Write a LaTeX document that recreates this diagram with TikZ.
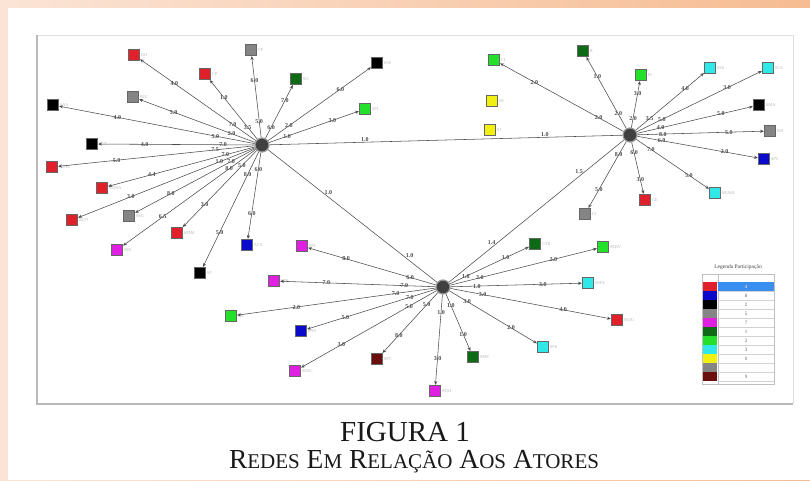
\documentclass[tikz,border=0pt]{standalone}
\usepackage{fontspec}
\setmainfont{Liberation Serif}
\usetikzlibrary{arrows.meta}
\definecolor{cred}{HTML}{E0202A}
\definecolor{cblue}{HTML}{0A0ACB}
\definecolor{cgray}{HTML}{858585}
\definecolor{cmag}{HTML}{E020E0}
\definecolor{cdkg}{HTML}{0E6A14}
\definecolor{cgrn}{HTML}{25E02A}
\definecolor{ccyan}{HTML}{30E8E8}
\definecolor{cyel}{HTML}{F2F010}
\definecolor{cdred}{HTML}{6A0E0E}
\definecolor{peachA}{HTML}{FBE4D6}
\definecolor{peachB}{HTML}{F6BC92}
\definecolor{selblue}{HTML}{3A8EF0}
\tikzset{
  leaf/.style={draw=black!60, line width=0.3pt, minimum size=11pt, inner sep=0pt, fill=#1},
  hub/.style={circle, fill=black!75, draw=gray!80, line width=1.2pt, minimum size=14pt, inner sep=0pt},
  edge/.style={draw=gray!60!black, line width=0.55pt, -{Stealth[length=3.8pt,width=3.2pt]}, shorten >=0.5pt},
  link/.style={draw=gray!60!black, line width=0.55pt},
  wlab/.style={font=\fontsize{6}{6}\selectfont\bfseries, text=black!70, inner sep=0.3pt},
  nlab/.style={font=\fontsize{4.5}{5}\selectfont, text=gray!55, anchor=west, inner sep=1pt},
  legtxt/.style={font=\fontsize{5}{5}\selectfont, text=black!60, inner sep=0pt}
}
\newcommand{\leafnode}[5]{% name, x, y, color, label
  \node[leaf=#4] (#1) at (#2,#3) {};
  \node[nlab] (#1t) at (#1.east) {#5};}
\newcommand{\smc}[1]{{\fontsize{21}{24}\selectfont #1}}
\begin{document}
\begin{tikzpicture}[x=1pt,y=-1pt]
\useasboundingbox (0,0) rectangle (810,480);
% background
\shade[left color=peachA, right color=peachB] (0,0) rectangle (810,480);
\fill[white] (8,8) rectangle (810,480);
% frame
\draw[gray!25, line width=0.6pt] (37,35) -- (793,35) -- (793,404);
\draw[gray!55, line width=1.6pt] (37,35) -- (37,404) -- (793,404);
% hubs
\node[hub] (A) at (262,145) {};
\node[hub] (B) at (630,135) {};
\node[hub] (C) at (443,287) {};
% left cluster leaves
\leafnode{a1}{134}{55}{cred}{OO}
\leafnode{a2}{205}{74}{cred}{CP}
\leafnode{a3}{251}{50}{cgray}{CF}
\leafnode{a4}{296}{79}{cdkg}{SG}
\leafnode{a5}{377}{63}{black}{SSS}
\leafnode{a6}{365}{109}{cgrn}{SFL}
\leafnode{a7}{133}{97}{cgray}{SEC}
\leafnode{a8}{53}{105}{black}{SAS}
\leafnode{a9}{92}{144}{black}{SCT}
\leafnode{a10}{52}{167}{cred}{SEAS}
\leafnode{a11}{102}{188}{cred}{SEMA}
\leafnode{a12}{72}{220}{cred}{SEJT}
\leafnode{a13}{129}{216}{cgray}{SEG}
\leafnode{a14}{177}{233}{cred}{SEIM}
\leafnode{a15}{117}{250}{cmag}{SPA}
\leafnode{a16}{247}{245}{cblue}{ACS}
\leafnode{a17}{200}{273}{black}{SP}
% right cluster leaves
\leafnode{b1}{494}{60}{cgrn}{CI}
\leafnode{b2}{583}{51}{cdkg}{R}
\leafnode{b3}{641}{75}{cgrn}{IS}
\leafnode{b4}{710}{68}{ccyan}{SSS}
\leafnode{b5}{768}{68}{ccyan}{SCS}
\leafnode{b6}{759}{105}{black}{SMA}
\leafnode{b7}{770}{131}{cgray}{SEI}
\leafnode{b8}{764}{159}{cblue}{SPC}
\leafnode{b9}{715}{193}{ccyan}{SEAM}
\leafnode{b10}{645}{200}{cred}{CE}
\leafnode{b11}{585}{214}{cgray}{CI}
\leafnode{y1}{492}{101}{cyel}{SE}
\leafnode{y2}{490}{130}{cyel}{SJ}
% bottom cluster leaves
\leafnode{c1}{302}{246}{cmag}{SPL}
\leafnode{c2}{274}{281}{cmag}{SPS}
\leafnode{c3}{231}{316}{cgrn}{SIC}
\leafnode{c4}{301}{331}{cblue}{SAS}
\leafnode{c5}{295}{371}{cmag}{SESC}
\leafnode{c6}{377}{359}{cdred}{SPC}
\leafnode{c7}{435}{391}{cmag}{SESI}
\leafnode{c8}{473}{357}{cdkg}{SME}
\leafnode{c9}{543}{347}{ccyan}{SFS}
\leafnode{c10}{617}{320}{cred}{SEJU}
\leafnode{c11}{588}{283}{ccyan}{SEPL}
\leafnode{c12}{603}{247}{cgrn}{SERV}
\leafnode{c13}{535}{244}{cdkg}{CTR}
% hub-hub links
\draw[link] (A) -- node[wlab,pos=0.27,above]{1.0} node[wlab,pos=0.78,above]{1.0} (B);
\draw[link] (A) -- node[wlab,pos=0.32,right=2pt]{1.0} node[wlab,pos=0.8,right=2pt]{1.0} (C);
\draw[link] (B) -- node[wlab,pos=0.22,left=2pt]{1.5} node[wlab,pos=0.72,left=2pt]{1.4} (C);
% edges
\foreach \n/\m/\k in {a1/4.0/7.0,a2/1.0/3.5,a3/6.0/5.0,a4/7.0/6.0,a5/6.0/2.0,a6/3.0/1.0,
  a7/5.0/2.0,a8/4.0/5.0,a9/4.0/7.0,a10/5.0/7.5,a11/4.4/7.0,a12/3.0/1.0,a13/8.0/7.0,
  a14/3.0/5.0,a15/6.5/8.0,a16/6.0/6.0,a17/5.0/8.0}
  \draw[edge] (A) -- node[wlab,pos=0.7]{\m} node[wlab,pos=0.2]{\k} (\n);
\foreach \n/\m/\k in {b1/2.0/2.0,b2/1.0/2.0,b3/3.0/2.0,b4/4.0/3.5,b5/3.0/5.0,b6/5.0/4.0,
  b7/5.0/8.0,b8/2.0/6.0,b9/5.0/7.0,b10/3.0/6.0,b11/5.0/8.0}
  \draw[edge] (B) -- node[wlab,pos=0.72]{\m} node[wlab,pos=0.2]{\k} (\n);
\foreach \n/\m/\k in {c1/8.0/6.0,c2/7.0/7.0,c3/2.0/7.0,c4/5.0/7.0,c5/3.0/5.0,c6/8.0/5.0,
  c7/3.0/1.0,c8/1.0/1.0,c9/2.0/3.0,c10/4.0/3.0,c11/3.0/1.0,c12/2.0/3.0,c13/1.0/1.0}
  \draw[edge] (C) -- node[wlab,pos=0.7]{\m} node[wlab,pos=0.2]{\k} (\n);
% legend
\node[legtxt, font=\fontsize{5.5}{6}\selectfont, text=black!75] (legt) at (738,267) {Legenda Participação};
\draw[gray!50, line width=0.4pt] (702,274) rectangle (774,384);
\draw[gray!50, line width=0.4pt] (718,274) -- (718,384);
\draw[gray!50, line width=0.4pt] (702,282) -- (774,282);
\fill[selblue] (718,282) rectangle (774,291);
\foreach \i/\c/\v in {0/cred/4,1/cblue/8,2/black/2,3/cgray/5,4/cmag/7,5/cdkg/1,6/cgrn/2,7/ccyan/3,8/cyel/0,9/cgray/{},10/cdred/9}{
  \fill[\c] (703,282+\i*9) rectangle (717,291+\i*9);
  \draw[gray!35, line width=0.3pt] (718,291+\i*9) -- (774,291+\i*9);
  \node[legtxt] at (746,286.5+\i*9) {\v};
}
\node[legtxt, text=white] at (746,286.5) {4};
% caption
\node[font=\fontsize{29}{32}\selectfont, text=black!90] (cap1) at (405,432) {FIGURA 1};
\node[font=\fontsize{27.5}{30}\selectfont, text=black!90] (cap2) at (414,462)
  {R\smc{EDES} E\smc{M} R\smc{ELAÇÃO} A\smc{OS} A\smc{TORES}};
\end{tikzpicture}
\end{document}
